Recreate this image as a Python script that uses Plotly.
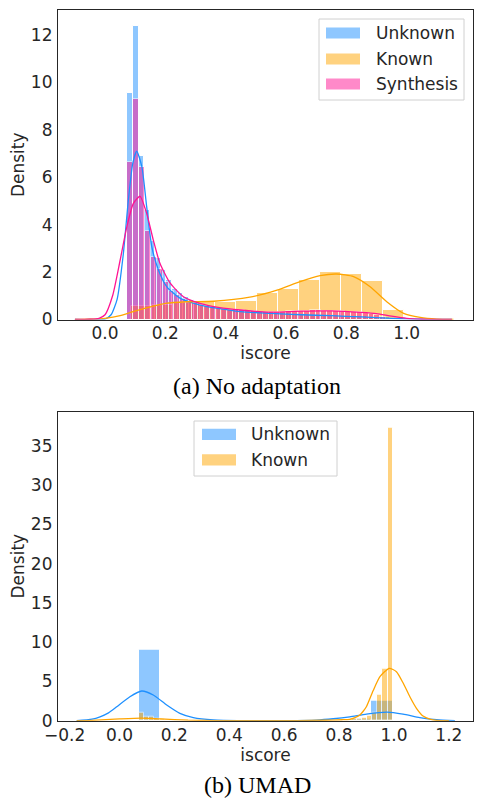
import plotly.graph_objects as go

# page is 483x798; the html body keeps an 8px margin, so the figure itself is smaller
PAGE_W, PAGE_H, PAD = 483, 798, 8
W, H = PAGE_W - 2 * PAD, PAGE_H - PAD

colors = {"Unknown": "#1E90FF", "Known": "#FFA500", "Synthesis": "#FF1493"}
series_a = ["Unknown", "Known", "Synthesis"]
series_b = ["Unknown", "Known"]

# ---- (a) No adaptation: histogram bins (first edge, bin width) and densities
a_unk_start, a_unk_width = 0.074, 0.0185
a_unk_density = [9.54, 12.4, 6.9, 4.6, 3.3, 2.6, 2.1, 1.65, 1.3, 1.1,
                 0.95, 0.82, 0.72, 0.65, 0.6, 0.55, 0.5, 0.47, 0.44, 0.42,
                 0.4, 0.37, 0.35, 0.33, 0.31, 0.3, 0.28, 0.27, 0.26, 0.25,
                 0.24, 0.22, 0.21, 0.2, 0.19, 0.18, 0.17, 0.17, 0.16, 0.15,
                 0.14, 0.14, 0.13, 0.12, 0.11, 0.1, 0.09, 0.08, 0.06, 0.05]
a_kno_start, a_kno_width = 0.086, 0.0697
a_kno_density = [0.58, 0.62, 0.68, 0.72, 0.75, 0.79, 1.1, 1.27, 1.67, 2.02, 1.92, 1.62, 0.40]
a_syn_start, a_syn_width = 0.074, 0.0195
a_syn_density = [6.63, 9.3, 6.42, 3.75, 2.65, 2.12, 1.6, 1.22, 1.03, 0.85,
                 0.75, 0.68, 0.62, 0.57, 0.52, 0.48, 0.45, 0.42, 0.4, 0.38,
                 0.36, 0.34, 0.33, 0.32, 0.31, 0.32, 0.33, 0.34, 0.35, 0.36,
                 0.37, 0.38, 0.38, 0.37, 0.36, 0.35, 0.34, 0.33, 0.32, 0.3,
                 0.28, 0.25, 0.2, 0.1]

# kde curves
a_unk_kde_x = [-0.1, -0.05, 0.0, 0.02, 0.04, 0.06, 0.077, 0.092, 0.105, 0.122, 0.138, 0.155,
               0.177, 0.205, 0.25, 0.315, 0.38, 0.45, 0.55, 0.65, 0.75, 0.85, 0.95, 1.05, 1.15]
a_unk_kde_y = [0, 0, 0.02, 0.2, 0.85, 2.7, 5.0, 6.6, 7.1, 6.45, 4.76, 3.07,
               2.09, 1.38, 0.89, 0.61, 0.46, 0.33, 0.26, 0.2, 0.16, 0.11, 0.05, 0.01, 0]
a_kno_kde_x = [-0.1, -0.05, 0.0, 0.05, 0.093, 0.15, 0.2, 0.27, 0.36, 0.48, 0.57, 0.647,
               0.713, 0.768, 0.824, 0.879, 0.934, 0.99, 1.045, 1.1, 1.155]
a_kno_kde_y = [0, 0.01, 0.05, 0.16, 0.33, 0.53, 0.68, 0.75, 0.77, 0.94, 1.24, 1.6,
               1.85, 1.92, 1.81, 1.38, 0.75, 0.26, 0.09, 0.02, 0]
a_syn_kde_x = [-0.1, -0.05, -0.02, 0.0, 0.025, 0.05, 0.072, 0.094, 0.116, 0.138, 0.16, 0.182,
               0.216, 0.26, 0.315, 0.38, 0.45, 0.55, 0.65, 0.75, 0.85, 0.9, 0.95, 1.0, 1.05, 1.1, 1.15]
a_syn_kde_y = [0, 0.01, 0.05, 0.2, 1.0, 2.5, 3.9, 4.9, 5.2, 4.48, 3.35, 2.37,
               1.53, 0.96, 0.68, 0.5, 0.4, 0.31, 0.35, 0.36, 0.3, 0.25, 0.14, 0.05, 0.01, 0, 0]

# ---- (b) UMAD
b_unk_start, b_unk_width = 0.072, 0.0769
b_unk_density = [9.0, 0.02, 0, 0, 0, 0, 0, 0, 0, 0.02, 0.3, 2.5]
b_kno_start, b_kno_width = 0.072, 0.01846
b_kno_density = [1.02, 0.55, 0.45, 0.3, 0.2, 0.12, 0.08, 0.05, 0.04, 0.03,
                 0.03, 0.02, 0.02, 0.02, 0.02, 0.02, 0.01, 0.01, 0.01, 0.01,
                 0.01, 0.01, 0.01, 0.01, 0.01, 0.01, 0.01, 0.01, 0.01, 0.01,
                 0.02, 0.02, 0.02, 0.02, 0.03, 0.03, 0.04, 0.05, 0.06, 0.08,
                 0.1, 0.15, 0.25, 0.3, 0.4, 0.6, 1.0, 3.27, 6.67, 37.3]

b_unk_kde_x = [-0.156, -0.1, -0.071, -0.04, -0.01, 0.038, 0.081, 0.123, 0.172, 0.22, 0.269, 0.342,
               0.45, 0.6, 0.718, 0.779, 0.839, 0.9, 0.975, 1.033, 1.094, 1.155, 1.222]
b_unk_kde_y = [0, 0.2, 0.5, 1.0, 1.78, 3.05, 3.78, 3.27, 2.0, 0.94, 0.4, 0.1,
               0.01, 0.01, 0.08, 0.25, 0.5, 0.85, 1.1, 0.85, 0.4, 0.13, 0]
b_kno_kde_x = [-0.156, -0.1, 0.0, 0.08, 0.15, 0.25, 0.35, 0.5, 0.65, 0.75, 0.81, 0.839, 0.858,
               0.876, 0.888, 0.9, 0.924, 0.949, 0.983, 1.009, 1.034, 1.058, 1.082, 1.106, 1.131, 1.155, 1.2]
b_kno_kde_y = [0, 0.05, 0.22, 0.32, 0.22, 0.07, 0.02, 0.01, 0.02, 0.06, 0.12, 0.18, 0.4,
               0.72, 1.2, 1.8, 3.8, 5.6, 6.67, 6.24, 4.76, 3.05, 1.58, 0.6, 0.2, 0.05, 0]

a_xticks = [0.0, 0.2, 0.4, 0.6, 0.8, 1.0, 1.2]
a_yticks = [0, 2, 4, 6, 8, 10, 12]
b_xticks = [-0.2, 0.0, 0.2, 0.4, 0.6, 0.8, 1.0, 1.2]
b_yticks = [0, 5, 10, 15, 20, 25, 30, 35]


# page pixel -> paper fraction
def px(x):
    return (x - PAD) / W


def py(y):
    return 1 - (y - PAD) / H


def edges(start, width, dens):
    return [start + width * i for i in range(len(dens))]


fig = go.Figure()

hist_a = {"Unknown": (a_unk_start, a_unk_width, a_unk_density),
          "Known": (a_kno_start, a_kno_width, a_kno_density),
          "Synthesis": (a_syn_start, a_syn_width, a_syn_density)}
kde_a = {"Unknown": (a_unk_kde_x, a_unk_kde_y),
         "Known": (a_kno_kde_x, a_kno_kde_y),
         "Synthesis": (a_syn_kde_x, a_syn_kde_y)}
hist_b = {"Unknown": (b_unk_start, b_unk_width, b_unk_density),
          "Known": (b_kno_start, b_kno_width, b_kno_density)}
kde_b = {"Unknown": (b_unk_kde_x, b_unk_kde_y),
         "Known": (b_kno_kde_x, b_kno_kde_y)}

for hists, kdes, names, xa, ya in [(hist_a, kde_a, series_a, "x", "y"),
                                   (hist_b, kde_b, series_b, "x2", "y2")]:
    for n in names:
        s, w, d = hists[n]
        fig.add_trace(go.Bar(x=edges(s, w, d), y=d, width=w, offset=0, name=n,
                             marker=dict(color=colors[n], opacity=0.5,
                                         line=dict(color="white", width=1)),
                             xaxis=xa, yaxis=ya, showlegend=False))
    for n in names:
        kx, ky = kdes[n]
        fig.add_trace(go.Scatter(x=kx, y=ky, mode="lines", name=n,
                                 line=dict(color=colors[n], width=1.3, shape="spline", smoothing=0.6),
                                 xaxis=xa, yaxis=ya, showlegend=False))

tick_font = dict(family="DejaVu Sans", size=17, color="#262626")
axis_common = dict(showline=True, mirror=True, linecolor="#262626", linewidth=1.25,
                   showgrid=False, zeroline=False, ticks="", tickfont=tick_font,
                   automargin=False)

fig.update_layout(
    width=W, height=H, plot_bgcolor="white", paper_bgcolor="white",
    margin=dict(l=0, r=0, t=0, b=0), barmode="overlay", bargap=0,
    xaxis=dict(domain=[px(58), px(473)], range=[-0.156, 1.22], anchor="y",
               tickvals=a_xticks, ticktext=[f"{v:.1f}" for v in a_xticks],
               ticklabelstandoff=-2,
               title=dict(text="iscore", font=tick_font, standoff=2), **axis_common),
    yaxis=dict(domain=[py(319.5), py(10)], range=[0, 13.06], anchor="x",
               tickvals=a_yticks, ticklabelstandoff=1,
               title=dict(text="Density", font=tick_font, standoff=10), **axis_common),
    xaxis2=dict(domain=[px(58), px(473)], range=[-0.224, 1.288], anchor="y2",
                tickvals=b_xticks, ticktext=[f"{v:.1f}".replace("-", "\u2212") for v in b_xticks],
                ticklabelstandoff=-1,
                title=dict(text="iscore", font=tick_font, standoff=1), **axis_common),
    yaxis2=dict(domain=[py(720.7), py(411.7)], range=[0, 39.33], anchor="x2",
                tickvals=b_yticks, ticklabelstandoff=1,
                title=dict(text="Density", font=tick_font, standoff=10), **axis_common),
)

# legends drawn by hand to get matplotlib-style wide patches
shapes = []
annotations = []


def legend(names, box, patch_x, text_x, rows):
    x0, y0, x1, y1 = box
    shapes.append(dict(type="rect", xref="paper", yref="paper", x0=px(x0), x1=px(x1),
                       y0=py(y1), y1=py(y0), fillcolor="rgba(255,255,255,0.8)",
                       line=dict(color="#d0d0d0", width=1)))
    for n, ry in zip(names, rows):
        shapes.append(dict(type="rect", xref="paper", yref="paper",
                           x0=px(patch_x[0]), x1=px(patch_x[1]),
                           y0=py(ry + 5.6), y1=py(ry - 5.6),
                           fillcolor=colors[n], opacity=0.5, line=dict(width=0)))
        annotations.append(dict(text=n, xref="paper", yref="paper", x=px(text_x), y=py(ry),
                                xanchor="left", yanchor="middle", showarrow=False,
                                font=dict(family="DejaVu Sans", size=17, color="#262626")))


legend(series_a, (319, 19, 464, 100), (326, 360), 374, [33, 59, 84])
legend(series_b, (194, 421, 337, 476), (202, 236), 249, [434.3, 459.8])

for cap, cy in [("(a) No adaptation", 386), ("(b) UMAD", 785)]:
    annotations.append(dict(text=cap, xref="paper", yref="paper", x=px(257), y=py(cy),
                            xanchor="center", yanchor="middle", showarrow=False,
                            font=dict(family="Liberation Serif", size=24, color="black")))

fig.update_layout(shapes=shapes, annotations=annotations)

fig.write_html("out.html")
